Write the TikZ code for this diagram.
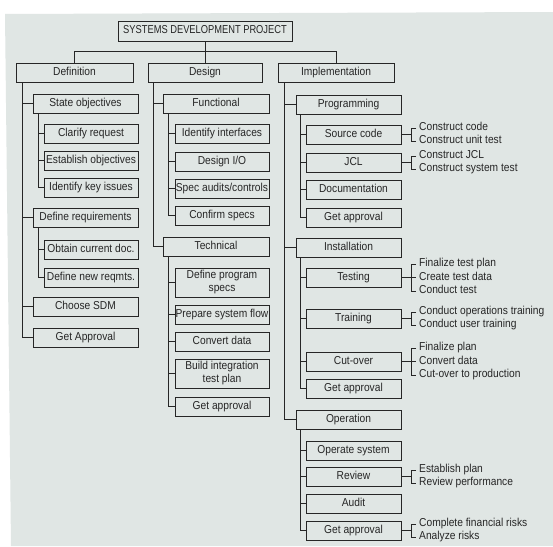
\documentclass[tikz,border=0pt]{standalone}
\usepackage{fontspec}
\setmainfont{Liberation Sans}[FakeStretch=0.89]
\newfontfamily\titlefont{Liberation Sans}[FakeStretch=0.81]
\definecolor{bgc}{HTML}{E0E6E4}
\definecolor{ink}{HTML}{262626}
\newcommand{\mkbox}[7]{\node[#1, minimum width={(#5-#3)*1pt}, minimum height={(#6-#4)*1pt}] (#2) at ({(#3+#5)/2},{(#4+#6)/2}) {#7};}
\begin{document}
\begin{tikzpicture}[x=1pt,y=-1pt,
  boxbase/.style={draw=ink, line width=0.9pt, inner sep=0pt, text=ink, font=\fontsize{11.5}{13}\selectfont},
  box/.style={boxbase, text height=8.3pt, text depth=2.5pt},
  box2/.style={boxbase, align=center},
  link/.style={draw=ink, line width=0.9pt},
  lbl/.style={anchor=west, inner xsep=3pt, inner ysep=0pt, text=ink, font=\fontsize{11.5}{13}\selectfont, text height=8.3pt, text depth=2.5pt}]
\useasboundingbox (0,0) rectangle (553,546);
\fill[white] (0,0) rectangle (553,546);
\fill[bgc] (5,14) -- (553,12) -- (553,546) -- (11,546) -- cycle;

% top and level 1
\mkbox{box}{top}{118}{21}{292}{41}{\titlefont SYSTEMS DEVELOPMENT PROJECT}
\mkbox{box}{def}{16}{63}{133}{82}{Definition}
\mkbox{box}{des}{148}{63}{262}{82}{Design}
\mkbox{box}{imp}{278}{63}{394}{82}{Implementation}
\coordinate (jn) at (205,51);
\draw[link] (top.south) -- (des.north);
\draw[link] (def.north) -- (def.north |- jn) -- (imp.north |- jn) -- (imp.north);

% Definition column
\mkbox{box}{so}{33}{94}{138}{113}{State objectives}
\mkbox{box}{cr}{44}{124}{138}{143}{Clarify request}
\mkbox{box}{eo}{44}{151}{138}{170}{Establish objectives}
\mkbox{box}{ik}{44}{178}{138}{197}{Identify key issues}
\mkbox{box}{dr}{33}{208}{138}{227}{Define requirements}
\mkbox{box}{oc}{44}{240}{138}{259}{Obtain current doc.}
\mkbox{box}{dn}{44}{268}{138}{287}{Define new reqmts.}
\mkbox{box}{sdm}{33}{297}{138}{316}{Choose SDM}
\mkbox{box}{gap}{33}{328}{138}{347}{Get Approval}
\foreach \c in {so,dr,sdm,gap} \draw[link] ([xshift=7pt]def.south west) |- (\c.west);
\foreach \c in {cr,eo,ik} \draw[link] ([xshift=6pt]so.south west) |- (\c.west);
\foreach \c in {oc,dn} \draw[link] ([xshift=6pt]dr.south west) |- (\c.west);

% Design column
\mkbox{box}{fun}{163}{94}{269}{113}{Functional}
\mkbox{box}{ii}{175}{124}{269}{143}{Identify interfaces}
\mkbox{box}{dio}{175}{152}{269}{171}{Design I/O}
\mkbox{box}{sac}{175}{179}{269}{198}{Spec audits/controls}
\mkbox{box}{cs}{175}{206}{269}{225}{Confirm specs}
\mkbox{box}{tec}{163}{237}{269}{256}{Technical}
\mkbox{box2}{dps}{175}{268}{269}{297}{Define program\\specs}
\mkbox{box}{psf}{175}{305}{269}{324}{Prepare system flow}
\mkbox{box}{cvd}{175}{332}{269}{351}{Convert data}
\mkbox{box2}{bit}{175}{359}{269}{388}{Build integration\\test plan}
\mkbox{box}{gab}{175}{397}{269}{416}{Get approval}
\foreach \c in {fun,tec} \draw[link] ([xshift=6pt]des.south west) |- (\c.west);
\foreach \c in {ii,dio,sac,cs} \draw[link] ([xshift=6pt]fun.south west) |- (\c.west);
\foreach \c in {dps,psf,cvd,bit,gab} \draw[link] ([xshift=6pt]tec.south west) |- (\c.west);

% Implementation column
\mkbox{box}{prg}{296}{95}{401}{114}{Programming}
\mkbox{box}{sc}{306}{125}{401}{144}{Source code}
\mkbox{box}{jcl}{306}{153}{401}{172}{JCL}
\mkbox{box}{doc}{306}{180}{401}{199}{Documentation}
\mkbox{box}{gac}{306}{208}{401}{227}{Get approval}
\mkbox{box}{ins}{296}{238}{401}{257}{Installation}
\mkbox{box}{tst}{306}{268}{401}{287}{Testing}
\mkbox{box}{trn}{306}{309}{401}{328}{Training}
\mkbox{box}{cut}{306}{352}{401}{371}{Cut-over}
\mkbox{box}{gad}{306}{379}{401}{398}{Get approval}
\mkbox{box}{opn}{296}{410}{401}{429}{Operation}
\mkbox{box}{ops}{306}{441}{401}{460}{Operate system}
\mkbox{box}{rev}{306}{467}{401}{486}{Review}
\mkbox{box}{aud}{306}{494}{401}{513}{Audit}
\mkbox{box}{gae}{306}{521}{401}{540}{Get approval}
\foreach \c in {prg,ins,opn} \draw[link] ([xshift=7pt]imp.south west) |- (\c.west);
\foreach \c in {sc,jcl,doc,gac} \draw[link] ([xshift=5pt]prg.south west) |- (\c.west);
\foreach \c in {tst,trn,cut,gad} \draw[link] ([xshift=5pt]ins.south west) |- (\c.west);
\foreach \c in {ops,rev,aud,gae} \draw[link] ([xshift=5pt]opn.south west) |- (\c.west);

% task lists
\node[lbl] (scA) at (416,128) {Construct code};
\node[lbl] (scB) at (416,141) {Construct unit test};
\node[lbl] (jcA) at (416,156) {Construct JCL};
\node[lbl] (jcB) at (416,169) {Construct system test};
\node[lbl] (tsA) at (416,264) {Finalize test plan};
\node[lbl] (tsB) at (416,277.5) {Create test data};
\node[lbl] (tsC) at (416,291) {Conduct test};
\node[lbl] (trA) at (416,312) {Conduct operations training};
\node[lbl] (trB) at (416,325) {Conduct user training};
\node[lbl] (cuA) at (416,348) {Finalize plan};
\node[lbl] (cuB) at (416,361.5) {Convert data};
\node[lbl] (cuC) at (416,375) {Cut-over to production};
\node[lbl] (rvA) at (416,470) {Establish plan};
\node[lbl] (rvB) at (416,483) {Review performance};
\node[lbl] (gaA) at (416,524) {Complete financial risks};
\node[lbl] (gaB) at (416,537) {Analyze risks};

% brackets (two lines)
\foreach \b/\p/\q in {sc/scA/scB, jcl/jcA/jcB, trn/trA/trB, rev/rvA/rvB, gae/gaA/gaB}{
  \coordinate (\b J) at ([xshift=-5pt]\p.west);
  \draw[link] (\p.west) -- (\b J) |- (\q.west);
  \draw[link] (\b.east) -- (\b.east -| \b J);
}
% brackets (three lines)
\foreach \b/\p/\m/\q in {tst/tsA/tsB/tsC, cut/cuA/cuB/cuC}{
  \coordinate (\b J) at ([xshift=-5pt]\p.west);
  \draw[link] (\p.west) -- (\b J) |- (\q.west);
  \draw[link] (\b.east) -- (\m.west);
}
\end{tikzpicture}
\end{document}
